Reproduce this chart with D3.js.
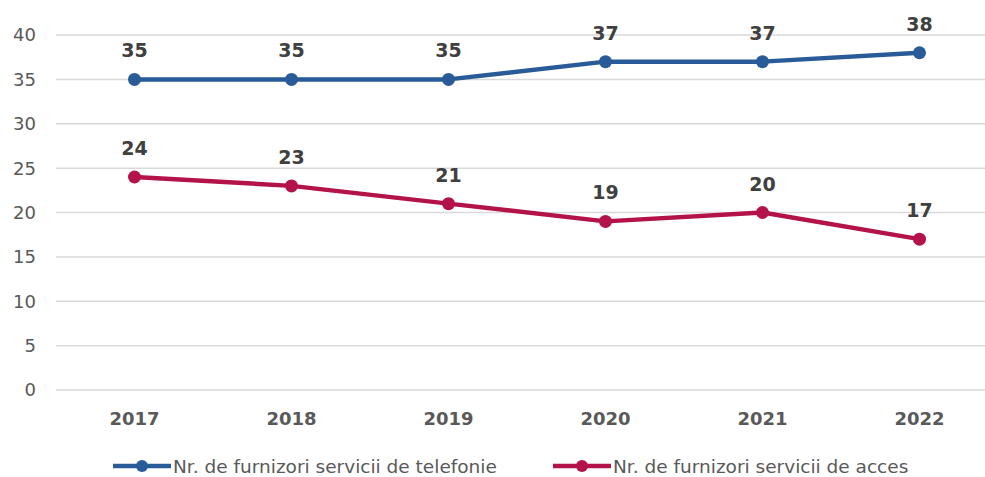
<!DOCTYPE html>
<html>
<head>
<meta charset="utf-8">
<script src="https://cdn.jsdelivr.net/npm/d3@7"></script>
<style>
  body { margin: 0; background: #fff; }
  text { font-family: "DejaVu Sans", Verdana, sans-serif; }
</style>
</head>
<body>
<div id="chart"></div>
<script>
var width = 985, height = 477;

var years = ["2017", "2018", "2019", "2020", "2021", "2022"];
var telefonie = [35, 35, 35, 37, 37, 38];
var acces = [24, 23, 21, 19, 20, 17];
var yTicks = [0, 5, 10, 15, 20, 25, 30, 35, 40];
var seriesNames = ["Nr. de furnizori servicii de telefonie", "Nr. de furnizori servicii de acces"];
var colors = ["#295b98", "#b3124a"];

var svg = d3.select("#chart").append("svg").attr("width", width).attr("height", height);

var x = d3.scaleBand().domain(years).range([56, 998]);
var y = d3.scaleLinear().domain([0, 40]).range([390, 35]);

// grid
svg.append("g").selectAll("line").data(yTicks).enter().append("line")
  .attr("x1", 56).attr("x2", 998)
  .attr("y1", function(d) { return y(d); }).attr("y2", function(d) { return y(d); })
  .attr("stroke", "#d9d9d9").attr("stroke-width", 1.5);

// y axis labels
svg.append("g").selectAll("text").data(yTicks).enter().append("text")
  .attr("x", 36).attr("y", function(d) { return y(d); })
  .attr("dy", "0.36em").attr("text-anchor", "end")
  .attr("font-size", 18).attr("fill", "#595959")
  .text(function(d) { return d; });

// x axis labels
svg.append("g").selectAll("text").data(years).enter().append("text")
  .attr("x", function(d) { return x(d) + x.bandwidth() / 2; }).attr("y", 425)
  .attr("text-anchor", "middle").attr("font-size", 18).attr("font-weight", "bold")
  .attr("fill", "#595959")
  .text(function(d) { return d; });

var line = d3.line()
  .x(function(d, i) { return x(years[i]) + x.bandwidth() / 2; })
  .y(function(d) { return y(d); });

[telefonie, acces].forEach(function(values, s) {
  var g = svg.append("g");
  g.append("path").datum(values).attr("d", line)
    .attr("fill", "none").attr("stroke", colors[s]).attr("stroke-width", 4.5)
    .attr("stroke-linejoin", "round");
  g.selectAll("circle").data(values).enter().append("circle")
    .attr("cx", function(d, i) { return x(years[i]) + x.bandwidth() / 2; })
    .attr("cy", function(d) { return y(d); })
    .attr("r", 6.5).attr("fill", colors[s]);
  g.selectAll("text").data(values).enter().append("text")
    .attr("x", function(d, i) { return x(years[i]) + x.bandwidth() / 2; })
    .attr("y", function(d) { return y(d) - 22; })
    .attr("text-anchor", "middle").attr("font-size", 19).attr("font-weight", "bold")
    .attr("fill", "#404040")
    .text(function(d) { return d; });
});

// legend
var legendX = [113, 553];
seriesNames.forEach(function(name, s) {
  var lg = svg.append("g").attr("transform", "translate(" + legendX[s] + ",466)");
  lg.append("line").attr("x1", 0).attr("x2", 58).attr("stroke", colors[s]).attr("stroke-width", 4.5);
  lg.append("circle").attr("cx", 29).attr("r", 6).attr("fill", colors[s]);
  lg.append("text").attr("x", 60).attr("dy", "0.36em")
    .attr("font-size", 18.5).attr("fill", "#595959")
    .text(name);
});
</script>
</body>
</html>
